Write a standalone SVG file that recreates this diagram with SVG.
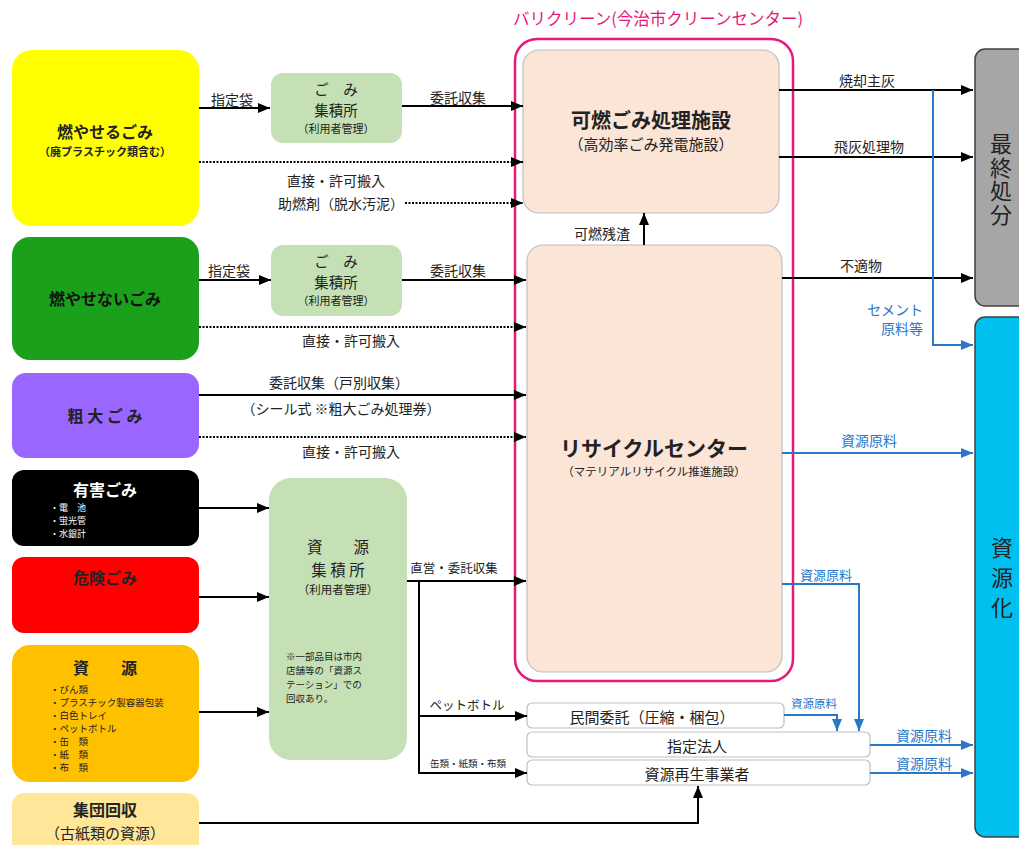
<svg xmlns="http://www.w3.org/2000/svg" width="1019" height="845" viewBox="0 0 1019 845">
<style>
text{font-family:"Noto Sans CJK JP","Noto Sans CJK SC",sans-serif;dominant-baseline:central;text-anchor:middle;fill:#222}
.t16{font-size:16px;font-weight:bold}
.lbl{font-size:14px}
.item{font-size:9px;text-anchor:start}
.blt{fill:#2878C8}
.c{stroke:#000;stroke-width:2;fill:none}
.d{stroke:#000;stroke-width:2;fill:none;stroke-dasharray:2 1.5}
.b{stroke:#2878C8;stroke-width:2;fill:none}
.gb{fill:#C5E0B4}
.pk{fill:#FBE5D6;stroke:#BFBFBF;stroke-width:1.2}
.wb{fill:#fff;stroke:#BFBFBF;stroke-width:1.2}
.vt{font-size:22px;writing-mode:vertical-rl}
</style>
<defs>
<marker id="ah" markerWidth="12" markerHeight="10" refX="12" refY="5" orient="auto" markerUnits="userSpaceOnUse"><path d="M0,0 L12,5 L0,10 z" fill="#000"/></marker>
<marker id="ab" markerWidth="12" markerHeight="10" refX="12" refY="5" orient="auto" markerUnits="userSpaceOnUse"><path d="M0,0 L12,5 L0,10 z" fill="#2878C8"/></marker>
</defs>
<rect width="1019" height="845" fill="#fff"/>

<g id="n-moyaseru">
<rect x="12" y="50" width="187" height="176" rx="20" fill="#FFFF00"/>
<text x="105" y="131" class="t16">燃やせるごみ</text>
<text x="105" y="151" style="font-size:11px;font-weight:bold">（廃プラスチック類含む）</text>
</g>
<g id="n-moyasenai">
<rect x="12" y="237" width="187" height="123" rx="18" fill="#1AA01A"/>
<text x="105" y="298" class="t16" style="fill:#111">燃やせないごみ</text>
</g>
<g id="n-sodai">
<rect x="12" y="373" width="187" height="85" rx="14" fill="#9966FF"/>
<text x="105" y="415" class="t16">粗 大 ご み</text>
</g>
<g id="n-yugai">
<rect x="12" y="470" width="187" height="76" rx="12" fill="#000"/>
<text x="105" y="489" class="t16" style="fill:#fff">有害ごみ</text>
<text class="item" style="fill:#fff"><tspan x="50" y="507">・電　池</tspan><tspan x="50" y="520">・蛍光管</tspan><tspan x="50" y="533">・水銀計</tspan></text>
</g>
<g id="n-kiken">
<rect x="12" y="557" width="187" height="76" rx="12" fill="#FF0000"/>
<text x="105" y="577" class="t16">危険ごみ</text>
</g>
<g id="n-shigen">
<rect x="12" y="645" width="187" height="137" rx="18" fill="#FFC000"/>
<text x="105" y="667" class="t16">資　　源</text>
<text class="item" style="font-size:9.5px"><tspan x="50" y="689">・びん類</tspan><tspan x="50" y="702">・プラスチック製容器包装</tspan><tspan x="50" y="715">・白色トレイ</tspan><tspan x="50" y="728">・ペットボトル</tspan><tspan x="50" y="741">・缶　類</tspan><tspan x="50" y="754">・紙　類</tspan><tspan x="50" y="767">・布　類</tspan></text>
</g>
<g id="n-shudan">
<rect x="12" y="793" width="187" height="70" rx="12" fill="#FFE699"/>
<text x="105" y="809" class="t16">集団回収</text>
<text x="105" y="832" style="font-size:15px">（古紙類の資源）</text>
</g>

<g id="n-gomi1">
<rect x="271" y="73" width="131" height="70" rx="12" class="gb"/>
<text style="font-size:14.5px"><tspan x="336" y="88">ご　み</tspan><tspan x="336" y="109">集積所</tspan></text>
<text x="336" y="128" style="font-size:11px">（利用者管理）</text>
</g>
<g id="n-gomi2">
<rect x="271" y="245" width="131" height="71" rx="12" class="gb"/>
<text style="font-size:14.5px"><tspan x="336" y="260">ご　み</tspan><tspan x="336" y="281">集積所</tspan></text>
<text x="336" y="300" style="font-size:11px">（利用者管理）</text>
</g>
<g id="n-shigen-shuseki">
<rect x="269" y="478" width="138" height="282" rx="22" class="gb"/>
<text style="font-size:15.5px"><tspan x="338" y="546">資　　源</tspan><tspan x="338" y="569">集 積 所</tspan></text>
<text x="338" y="589" style="font-size:11.5px">（利用者管理）</text>
<text style="font-size:9.5px;text-anchor:start"><tspan x="286" y="656">※一部品目は市内</tspan><tspan x="286" y="670">店舗等の「資源ス</tspan><tspan x="286" y="684">テーション」での</tspan><tspan x="286" y="698">回収あり。</tspan></text>
</g>

<g id="n-container">
<rect x="515" y="39" width="278" height="642" rx="22" fill="none" stroke="#E6197A" stroke-width="2.5"/>
<text x="658" y="18" style="font-size:16.5px;fill:#E6197A">バリクリーン(今治市クリーンセンター)</text>
</g>
<g id="n-kanen">
<rect x="523" y="50" width="256" height="163" rx="16" class="pk"/>
<text x="651" y="119" style="font-size:20px;font-weight:bold">可燃ごみ処理施設</text>
<text x="651" y="143" style="font-size:15px">（高効率ごみ発電施設）</text>
</g>
<g id="n-recycle">
<rect x="527" y="245" width="255" height="427" rx="16" class="pk"/>
<text x="654" y="447" style="font-size:21px;font-weight:bold">リサイクルセンター</text>
<text x="654" y="471" style="font-size:11.5px">（マテリアルリサイクル推進施設）</text>
</g>
<g id="n-minkan">
<rect x="527" y="703" width="257" height="25" rx="5" class="wb"/>
<text x="652" y="716" style="font-size:15px">民間委託（圧縮・梱包）</text>
</g>
<g id="n-shitei">
<rect x="527" y="732" width="343" height="25" rx="5" class="wb"/>
<text x="697" y="745" style="font-size:15px">指定法人</text>
</g>
<g id="n-saisei">
<rect x="527" y="760" width="343" height="25" rx="5" class="wb"/>
<text x="697" y="773" style="font-size:15px">資源再生事業者</text>
</g>
<g id="n-saishu">
<rect x="975" y="49" width="60" height="257" rx="10" fill="#A6A6A6" stroke="#404040" stroke-width="1.5"/>
<text x="1001" y="180" class="vt" style="letter-spacing:1.5px">最終処分</text>
</g>
<g id="n-shigenka">
<rect x="975" y="317" width="60" height="520" rx="10" fill="#00C0EF" stroke="#404040" stroke-width="1.5"/>
<text x="1002" y="582" class="vt" style="letter-spacing:8px">資源化</text>
</g>

<g id="connectors">
<path class="c" d="M199,108 H270" marker-end="url(#ah)"/>
<text x="232" y="99" class="lbl">指定袋</text>
<path class="c" d="M402,106 H523" marker-end="url(#ah)"/>
<text x="458" y="97" class="lbl">委託収集</text>
<path class="d" d="M199,162 H523" marker-end="url(#ah)"/>
<text x="336" y="180" class="lbl">直接・許可搬入</text>
<text x="341" y="203" class="lbl">助燃剤（脱水汚泥）</text>
<path class="d" d="M405,203 H523" marker-end="url(#ah)"/>

<path class="c" d="M199,280 H271" marker-end="url(#ah)"/>
<text x="229" y="270" class="lbl">指定袋</text>
<path class="c" d="M402,280 H526" marker-end="url(#ah)"/>
<text x="458" y="270" class="lbl">委託収集</text>
<path class="d" d="M199,327 H526" marker-end="url(#ah)"/>
<text x="351" y="340" class="lbl">直接・許可搬入</text>

<text x="339" y="382" class="lbl">委託収集（戸別収集）</text>
<path class="c" d="M199,395 H526" marker-end="url(#ah)"/>
<text x="341" y="408" class="lbl">（シール式 ※粗大ごみ処理券）</text>
<path class="d" d="M199,437 H526" marker-end="url(#ah)"/>
<text x="351" y="451" class="lbl">直接・許可搬入</text>

<path class="c" d="M199,508 H269" marker-end="url(#ah)"/>
<path class="c" d="M199,597 H269" marker-end="url(#ah)"/>
<path class="c" d="M199,712 H269" marker-end="url(#ah)"/>

<path class="c" d="M407,581 H526" marker-end="url(#ah)"/>
<text x="454" y="567" style="font-size:12.5px">直営・委託収集</text>
<path class="c" d="M419,581 V773 H527" marker-end="url(#ah)"/>
<path class="c" d="M419,716 H527" marker-end="url(#ah)"/>
<text x="467" y="704" style="font-size:12.5px">ペットボトル</text>
<text x="468" y="763" style="font-size:9.5px">缶類・紙類・布類</text>

<path class="c" d="M199,823 H698 V786" marker-end="url(#ah)"/>

<path class="c" d="M644,245 V213" marker-end="url(#ah)"/>
<text x="602" y="233" class="lbl">可燃残渣</text>

<path class="c" d="M779,90 H973" marker-end="url(#ah)"/>
<text x="867" y="80" class="lbl">焼却主灰</text>
<path class="c" d="M779,157 H973" marker-end="url(#ah)"/>
<text x="869" y="146" class="lbl">飛灰処理物</text>
<path class="c" d="M782,278 H973" marker-end="url(#ah)"/>
<text x="861" y="265" class="lbl">不適物</text>

<path class="b" d="M933,90 V345 H973" marker-end="url(#ab)"/>
<text class="lbl blt" style="text-anchor:end"><tspan x="923" y="309">セメント</tspan><tspan x="923" y="328">原料等</tspan></text>
<path class="b" d="M782,453 H973" marker-end="url(#ab)"/>
<text x="869" y="440" class="lbl blt">資源原料</text>
<path class="b" d="M782,584 H859 V731" marker-end="url(#ab)"/>
<text x="826" y="574" class="lbl blt" style="font-size:13px">資源原料</text>
<path class="b" d="M784,715 H837 V731" marker-end="url(#ab)"/>
<text x="814" y="703" class="blt" style="font-size:11.5px">資源原料</text>
<path class="b" d="M870,745 H973" marker-end="url(#ab)"/>
<text x="924" y="735" class="lbl blt">資源原料</text>
<path class="b" d="M870,773 H973" marker-end="url(#ab)"/>
<text x="924" y="763" class="lbl blt">資源原料</text>
</g>
</svg>
